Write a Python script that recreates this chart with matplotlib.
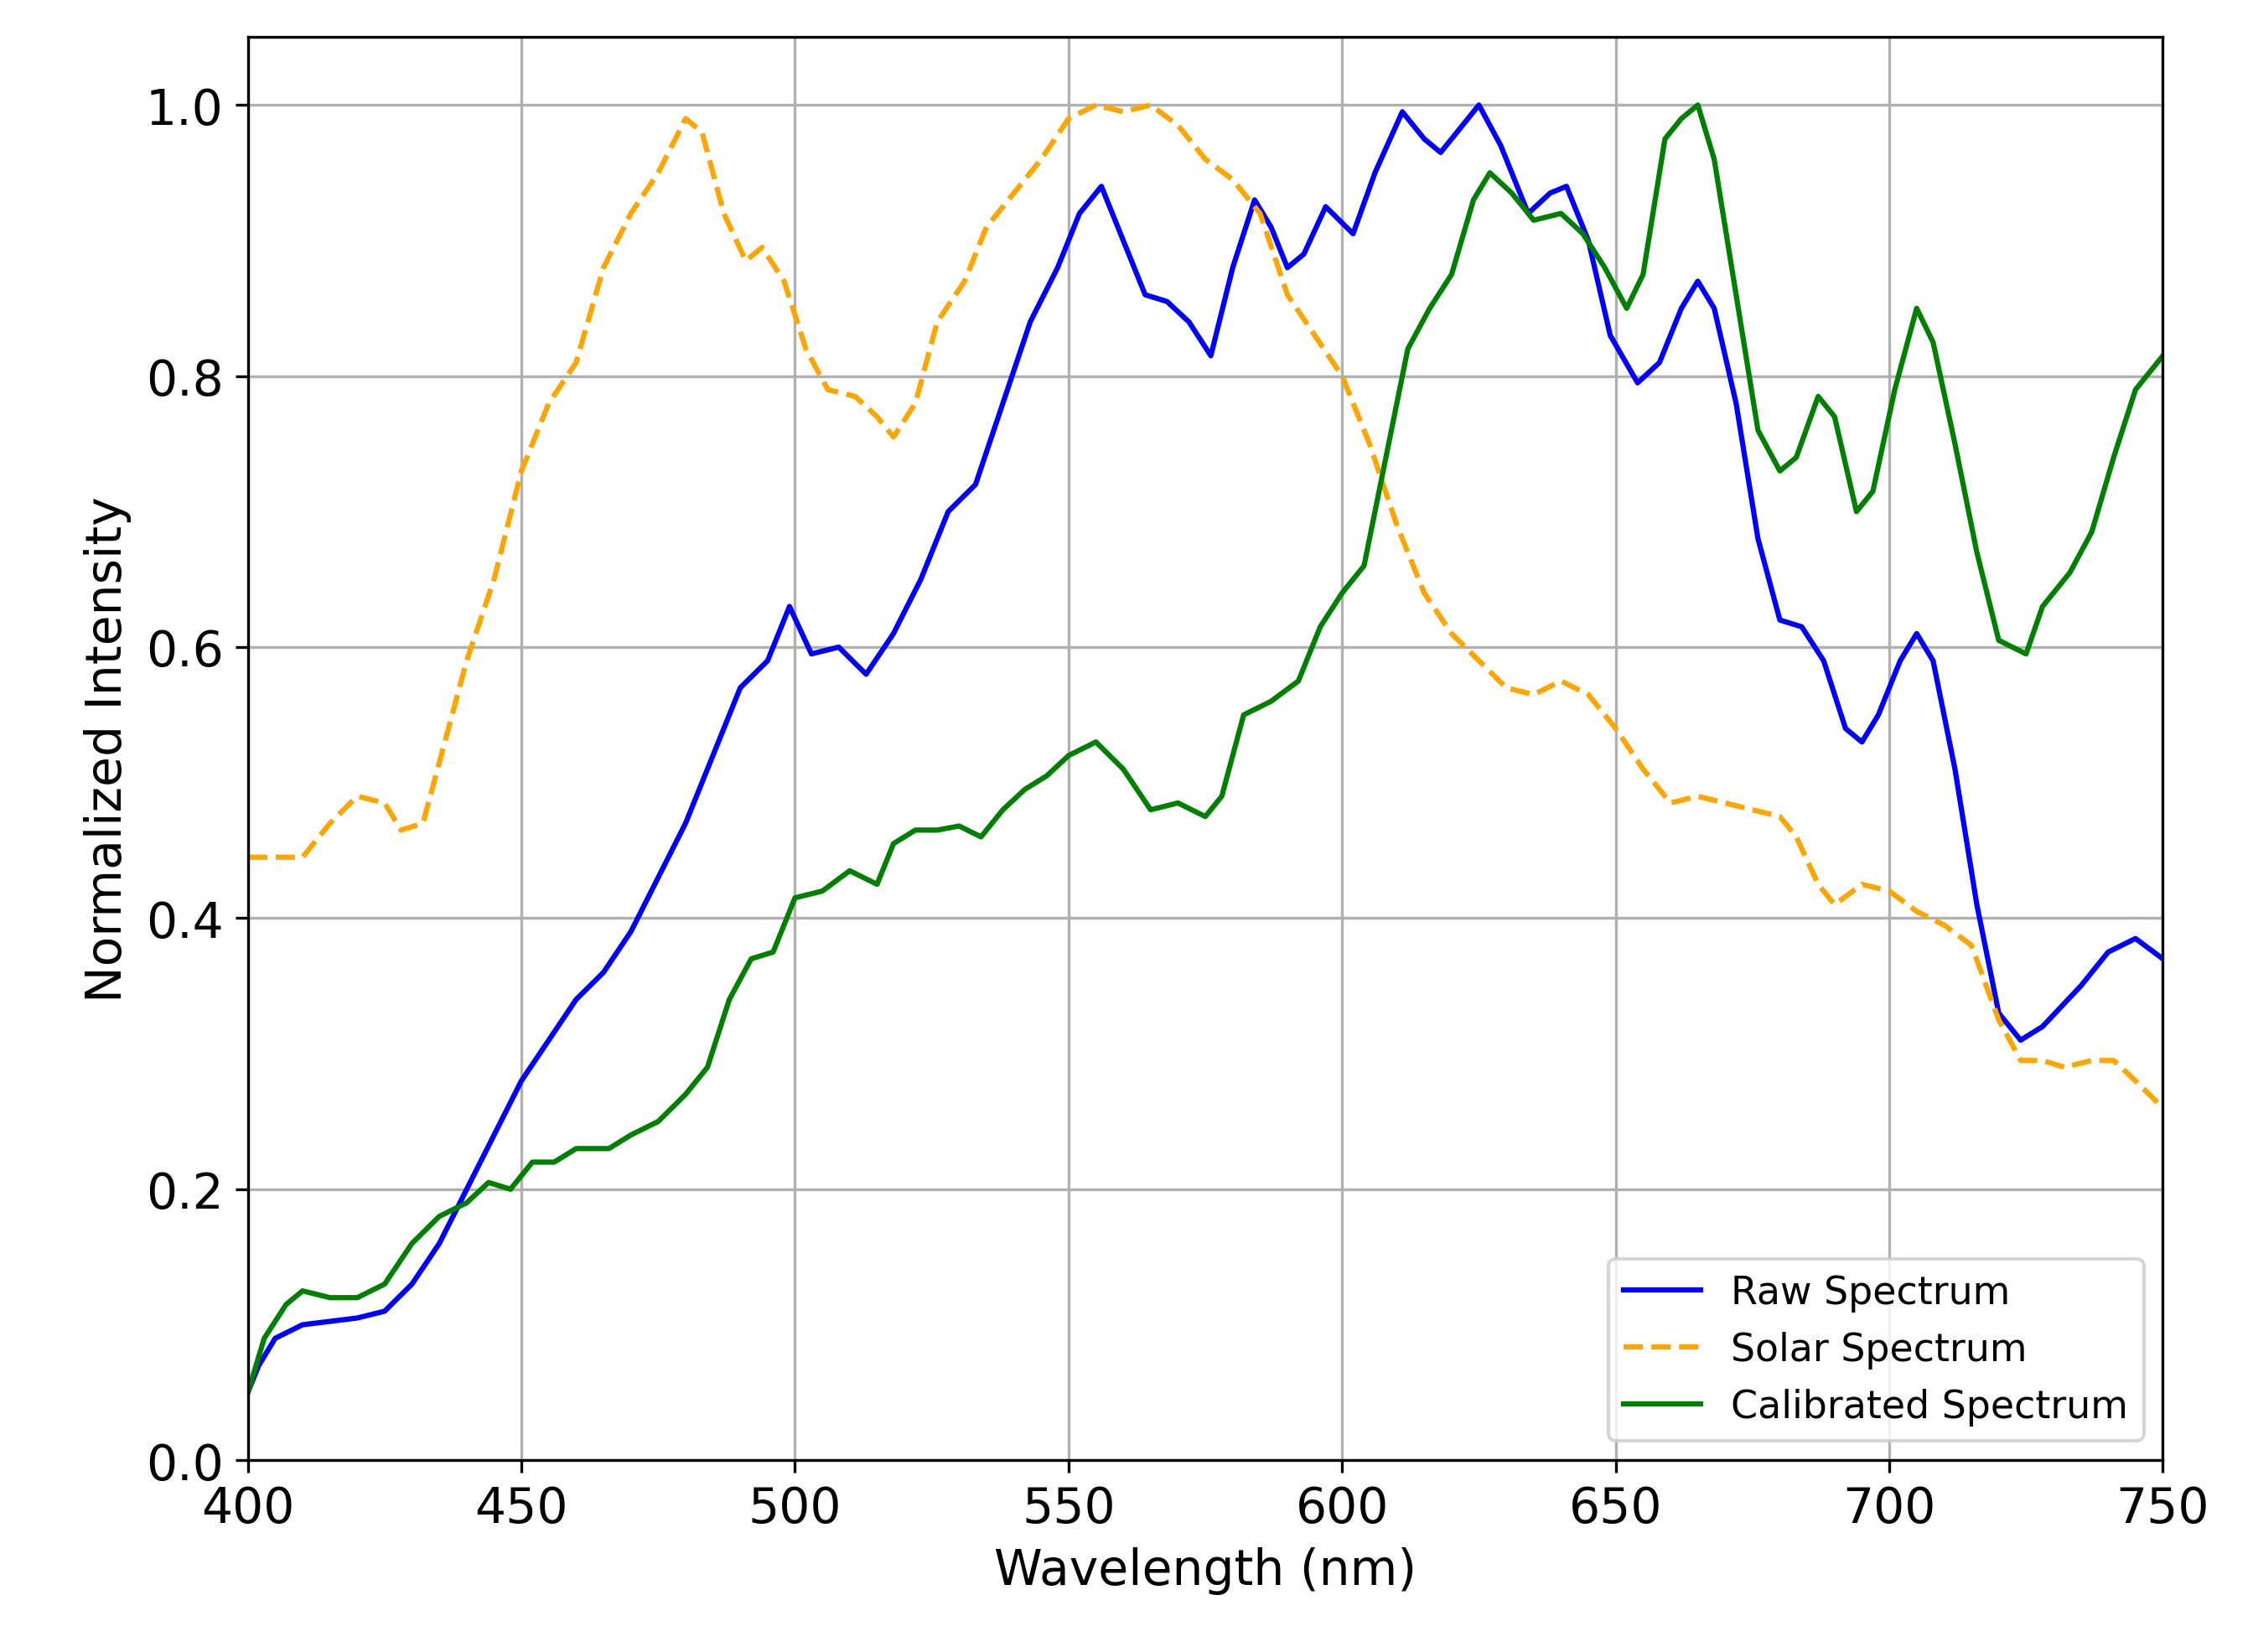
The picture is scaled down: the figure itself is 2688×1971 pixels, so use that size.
import matplotlib
matplotlib.use("Agg")
import matplotlib.pyplot as plt

# RAW SPECTRUM
raw_x = [400, 402, 405, 410, 420, 425, 430, 435, 440, 445, 450, 455, 460, 465, 470, 475, 480, 485, 490, 495,
         499, 503, 508, 513, 518, 523, 528, 533, 538, 543, 548, 552, 556, 560, 564, 568, 572, 576, 580, 584,
         587, 590, 593, 597, 602, 606, 611, 615, 618, 621, 625, 629, 634, 638, 641, 645, 649, 654, 658, 662,
         665, 668, 672, 676, 680, 684, 688, 692, 695, 698, 702, 705, 708, 712, 716, 720, 724, 728, 735, 740,
         745, 750]
raw_y = [0.05, 0.07, 0.09, 0.10, 0.105, 0.11, 0.13, 0.16, 0.20, 0.24, 0.28, 0.31, 0.34, 0.36, 0.39, 0.43, 0.47, 0.52, 0.57, 0.59,
         0.63, 0.595, 0.60, 0.58, 0.61, 0.65, 0.70, 0.72, 0.78, 0.84, 0.88, 0.92, 0.94, 0.90, 0.86, 0.855, 0.84, 0.815, 0.88, 0.93,
         0.91, 0.88, 0.89, 0.925, 0.905, 0.95, 0.995, 0.975, 0.965, 0.98, 1.0, 0.97, 0.92, 0.935, 0.94, 0.90, 0.83, 0.795, 0.81, 0.85,
         0.87, 0.85, 0.78, 0.68, 0.62, 0.615, 0.59, 0.54, 0.53, 0.55, 0.59, 0.61, 0.59, 0.51, 0.41, 0.33, 0.31, 0.32, 0.35, 0.375,
         0.385, 0.37]

# SOLAR SPECTRUM
solar_x = [400, 410, 415, 420, 425, 428, 432, 436, 440, 445, 450, 455, 460, 465, 470, 475, 480, 483, 487, 491,
           494, 498, 502, 506, 511, 515, 518, 522, 526, 531, 535, 540, 545, 550, 555, 560, 565, 570, 575, 580,
           585, 590, 595, 600, 605, 610, 615, 620, 625, 630, 635, 640, 645, 650, 655, 660, 665, 670, 675, 680,
           683, 687, 690, 695, 700, 705, 710, 715, 720, 724, 728, 732, 737, 741, 745, 750]
solar_y = [0.445, 0.445, 0.47, 0.49, 0.485, 0.465, 0.47, 0.53, 0.59, 0.65, 0.73, 0.78, 0.81, 0.88, 0.92, 0.95, 0.99, 0.98, 0.92, 0.885,
           0.895, 0.87, 0.82, 0.79, 0.785, 0.77, 0.755, 0.78, 0.84, 0.87, 0.91, 0.935, 0.96, 0.99, 1.0, 0.995, 1.0, 0.985, 0.96, 0.945,
           0.92, 0.86, 0.83, 0.80, 0.75, 0.69, 0.64, 0.61, 0.59, 0.57, 0.565, 0.575, 0.565, 0.54, 0.51, 0.485, 0.49, 0.485, 0.48, 0.475,
           0.46, 0.425, 0.41, 0.425, 0.42, 0.405, 0.395, 0.38, 0.325, 0.295, 0.295, 0.29, 0.295, 0.295, 0.28, 0.26]

# CALIBRATED SPECTRUM
cal_x = [400, 403, 407, 410, 415, 420, 425, 430, 435, 440, 444, 448, 452, 456, 460, 466, 470, 475, 480, 484,
         488, 492, 496, 500, 505, 510, 515, 518, 522, 526, 530, 534, 538, 542, 546, 550, 555, 560, 565, 570,
         575, 578, 582, 587, 592, 596, 600, 604, 608, 612, 616, 620, 624, 627, 631, 635, 640, 644, 648, 652,
         655, 659, 662, 665, 668, 672, 676, 680, 683, 687, 690, 694, 697, 701, 705, 708, 712, 716, 720, 725,
         728, 733, 737, 741, 745, 750]
cal_y = [0.05, 0.09, 0.115, 0.125, 0.12, 0.12, 0.13, 0.16, 0.18, 0.19, 0.205, 0.20, 0.22, 0.22, 0.23, 0.23, 0.24, 0.25, 0.27, 0.29,
         0.34, 0.37, 0.375, 0.415, 0.42, 0.435, 0.425, 0.455, 0.465, 0.465, 0.468, 0.46, 0.48, 0.495, 0.505, 0.52, 0.53, 0.51, 0.48, 0.485,
         0.475, 0.49, 0.55, 0.56, 0.575, 0.615, 0.64, 0.66, 0.74, 0.82, 0.85, 0.875, 0.93, 0.95, 0.935, 0.915, 0.92, 0.905, 0.88, 0.85,
         0.875, 0.975, 0.99, 1.0, 0.96, 0.86, 0.76, 0.73, 0.74, 0.785, 0.77, 0.70, 0.715, 0.79, 0.85, 0.825, 0.75, 0.67, 0.605, 0.595,
         0.63, 0.655, 0.685, 0.74, 0.79, 0.815]

fig = plt.figure(figsize=(8.96, 6.573), dpi=300)
ax = fig.add_axes([0.110, 0.116, 0.850, 0.861])

ax.plot(raw_x, raw_y, color="blue", lw=1.5, label="Raw Spectrum")
ax.plot(solar_x, solar_y, color="orange", lw=1.5, ls="--", label="Solar Spectrum")
ax.plot(cal_x, cal_y, color="green", lw=1.5, label="Calibrated Spectrum")

ax.set_xlim(400, 750)
ax.set_ylim(0, 1.05)
ax.set_xlabel("Wavelength (nm)", fontsize=14)
ax.set_ylabel("Normalized Intensity", fontsize=14)
ax.tick_params(labelsize=14)
ax.grid(True)
ax.legend(loc="lower right", fontsize=11)

fig.savefig("out.png", dpi=300)
